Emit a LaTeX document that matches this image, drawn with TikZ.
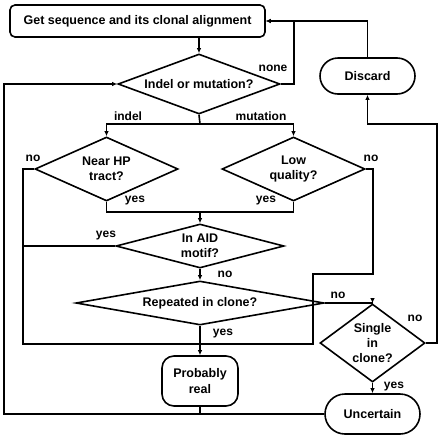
\documentclass[tikz,border=0pt]{standalone}
\usepackage{fontspec}
\setmainfont{Liberation Sans}
\usetikzlibrary{shapes.geometric,arrows.meta}
\begin{document}
\begin{tikzpicture}[x=1pt,y=-1pt]
	\tikzstyle{decision}=[diamond,draw=black,line width=1.6pt,inner sep=0pt,align=center,font=\bfseries\fontsize{12.5}{15}\selectfont]
	\tikzstyle{terminal}=[rectangle,draw=black,line width=1.6pt,inner sep=2pt,align=center,font=\bfseries\fontsize{12.5}{16}\selectfont]
	\tikzstyle{wire}=[draw,line width=1.6pt]
	\tikzstyle{flow}=[draw,line width=1.6pt,-{Latex[length=5pt,width=4.5pt]}]
	\tikzstyle{lbl}=[font=\bfseries\fontsize{12}{14}\selectfont,inner sep=0pt]
	\useasboundingbox (0,0) rectangle (441,437);
	% nodes
	\node [terminal,rounded corners=5pt,minimum width=255pt,minimum height=32pt] (get) at (137.5,21) {Get sequence and its clonal alignment};
	\node [decision,minimum width=162pt,minimum height=60pt,aspect=2.7] (indel) at (199,84) {Indel or mutation?};
	\node [terminal,rounded corners=18pt,minimum width=95pt,minimum height=36pt] (discard) at (367.5,76) {Discard};
	\node [decision,minimum width=143pt,minimum height=64pt,aspect=2.23] (nearhp) at (106.5,169) {Near HP\\tract?};
	\node [decision,minimum width=143pt,minimum height=64pt,aspect=2.23] (lowq) at (293.5,169) {Low\\quality?};
	\node [decision,minimum width=168pt,minimum height=44pt,aspect=3.82] (aid) at (200,246) {In AID\\motif?};
	\node [decision,minimum width=248pt,minimum height=44pt,aspect=5.64] (repeat) at (200,303) {Repeated in clone?};
	\node [decision,minimum width=105pt,minimum height=78pt,aspect=1.35] (single) at (372.5,343) {Single\\in\\clone?};
	\node [terminal,rounded corners=12pt,minimum width=76pt,minimum height=50pt] (real) at (200,381) {Probably\\real};
	\node [terminal,rounded corners=20pt,minimum width=95pt,minimum height=40pt] (uncertain) at (372.5,414) {Uncertain};
	% junctions
	\coordinate (split) at (200,124);
	\coordinate (merge) at (200,212);
	\coordinate (cl) at (23,344);
	\coordinate (cr) at (313,344);
	% connectors
	\path[flow] (get.south -| indel.north) -- (indel.north);
	\path[flow] (indel.east) -- ++(13,0) |- (get.east);
	\path[flow] (discard.north) |- (get.east);
	\path[wire] (indel.south) -- (split);
	\path[flow] (split) -| (nearhp.north);
	\path[flow] (split) -| (lowq.north);
	\path[wire] (nearhp.south) |- (merge) -| (lowq.south);
	\path[flow] (merge) -- (aid.north);
	\path[wire] (nearhp.west) -| (cl) -- (cr) |- (373,274) |- (lowq.east);
	\path[wire] (aid.west) -- (aid.west -| cl);
	\path[flow] (aid.south) -- (repeat.north);
	\path[flow] (repeat.south) -- (real.north);
	\path[flow] (repeat.east) -| (single.north);
	\path[flow] (single.east) -| (437,124) -| (discard.south);
	\path[flow] (single.south) -- (uncertain.north);
	\path[flow] (uncertain.west) -| (4,84) -- (indel.west);
	\path[wire] (real.south) -- (real.south |- uncertain.west);
	% labels
	\node [lbl] (lnone) at (273,68) {none};
	\node [lbl] (lindel) at (128,116) {indel};
	\node [lbl] (lmut) at (261,116) {mutation};
	\node [lbl] (lno1) at (33,158) {no};
	\node [lbl] (lno2) at (371,158) {no};
	\node [lbl] (lyes1) at (135,201) {yes};
	\node [lbl] (lyes2) at (266,201) {yes};
	\node [lbl] (lyes3) at (106,236) {yes};
	\node [lbl] (lno3) at (225,274) {no};
	\node [lbl] (lno4) at (338,295) {no};
	\node [lbl] (lno5) at (415,318) {no};
	\node [lbl] (lyes4) at (223,334) {yes};
	\node [lbl] (lyes5) at (394,387) {yes};
\end{tikzpicture}
\end{document}
